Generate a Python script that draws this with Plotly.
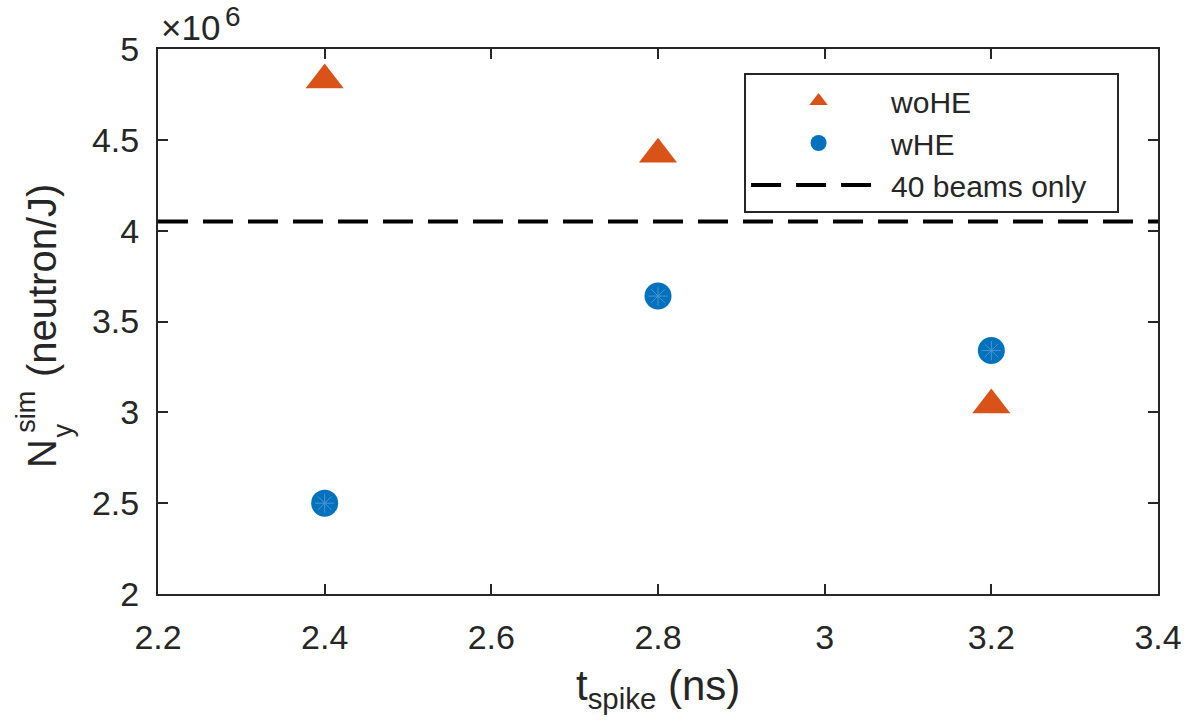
import plotly.graph_objects as go

# Spike timing (ns) and simulated neutron yield per joule
t_spike = [2.4, 2.8, 3.2]
yield_woHE = [4.83e6, 4.42e6, 3.04e6]
yield_wHE = [2.50e6, 3.64e6, 3.34e6]
yield_40_beams = 4.05e6

x_ticks = [2.2, 2.4, 2.6, 2.8, 3.0, 3.2, 3.4]
x_tick_text = ["2.2", "2.4", "2.6", "2.8", "3", "3.2", "3.4"]
y_ticks = [2.0e6, 2.5e6, 3.0e6, 3.5e6, 4.0e6, 4.5e6, 5.0e6]
y_tick_text = ["2", "2.5", "3", "3.5", "4", "4.5", "5"]

ORANGE = "#D95319"
BLUE = "#0072BD"
INK = "#262626"
FONT = "Liberation Sans, Arial, Helvetica, sans-serif"

W, H = 1194, 722
L, R, T, B = 158, 31, 49, 128
PW, PH = W - L - R, H - T - B


def px_x(p):
    return (p - L) / PW


def px_y(p):
    return (H - B - p) / PH


fig = go.Figure()

fig.add_trace(go.Scatter(
    x=t_spike, y=yield_woHE, mode="markers", name="woHE",
    marker=dict(symbol="triangle-up", size=33, color=ORANGE, line=dict(width=0)),
))
fig.add_trace(go.Scatter(
    x=t_spike, y=yield_wHE, mode="markers", name="wHE",
    marker=dict(symbol="circle", size=27, color=BLUE, line=dict(width=0)),
))
# faint asterisk drawn inside each circle
fig.add_trace(go.Scatter(
    x=t_spike, y=yield_wHE, mode="markers", showlegend=False, hoverinfo="skip",
    marker=dict(symbol="asterisk-open", size=16, color="#4d94cf",
                line=dict(width=1, color="#4d94cf")),
))
# trailing no-break spaces give the legend box some right padding
fig.add_trace(go.Scatter(
    x=[x_ticks[0], x_ticks[-1]], y=[yield_40_beams, yield_40_beams],
    mode="lines", name="40 beams only\u00a0\u00a0\u00a0",
    line=dict(color="black", width=4, dash="30px,15px"),
))

axis_common = dict(
    showline=True, linecolor=INK, linewidth=2, mirror="ticks",
    ticks="inside", ticklen=10, tickwidth=2, tickcolor=INK,
    showgrid=False, zeroline=False,
    tickfont=dict(family=FONT, size=34, color=INK),
)

fig.update_xaxes(range=[2.2, 3.4], tickvals=x_ticks, ticktext=x_tick_text,
                 ticklabelstandoff=12, **axis_common)
fig.update_yaxes(range=[2.0e6, 5.0e6], tickvals=y_ticks, ticktext=y_tick_text,
                 ticklabelstandoff=10, **axis_common)

title_font = dict(family=FONT, size=40, color=INK)
sub_font = dict(family=FONT, size=27, color=INK)
annotations = [
    # x-axis title
    dict(text="t<sub>spike</sub> (ns)", x=0.5, y=px_y(660), xref="paper", yref="paper",
         xanchor="center", yanchor="top", showarrow=False, font=dict(family=FONT, size=42, color=INK)),
    # y-axis title built from pieces so the super/subscripts stack
    dict(text="N", x=px_x(41.5), y=px_y(454), xref="paper", yref="paper", textangle=-90,
         xanchor="center", yanchor="middle", showarrow=False, font=title_font),
    dict(text="sim", x=px_x(25), y=px_y(412), xref="paper", yref="paper", textangle=-90,
         xanchor="center", yanchor="middle", showarrow=False, font=sub_font),
    dict(text="y", x=px_x(63), y=px_y(430), xref="paper", yref="paper", textangle=-90,
         xanchor="center", yanchor="middle", showarrow=False, font=sub_font),
    dict(text="(neutron/J)", x=px_x(41.5), y=px_y(281), xref="paper", yref="paper", textangle=-90,
         xanchor="center", yanchor="middle", showarrow=False, font=title_font),
    # exponent label
    dict(text="×10", x=px_x(159), y=1.0, xref="paper", yref="paper",
         xanchor="left", yanchor="bottom", showarrow=False,
         font=dict(family=FONT, size=35, color=INK)),
    dict(text="6", x=px_x(223), y=px_y(34), xref="paper", yref="paper",
         xanchor="left", yanchor="bottom", showarrow=False,
         font=dict(family=FONT, size=28, color=INK)),
]

fig.update_layout(
    width=W, height=H, autosize=False,
    margin=dict(l=L, r=R, t=T, b=B),
    paper_bgcolor="white", plot_bgcolor="white",
    showlegend=True,
    legend=dict(
        x=px_x(747), y=px_y(73), xanchor="left", yanchor="top",
        bgcolor="white", bordercolor=INK, borderwidth=2,
        font=dict(family=FONT, size=30, color=INK),
        itemwidth=135, tracegroupgap=0,
    ),
    annotations=annotations,
)

fig.write_html("out.html")
